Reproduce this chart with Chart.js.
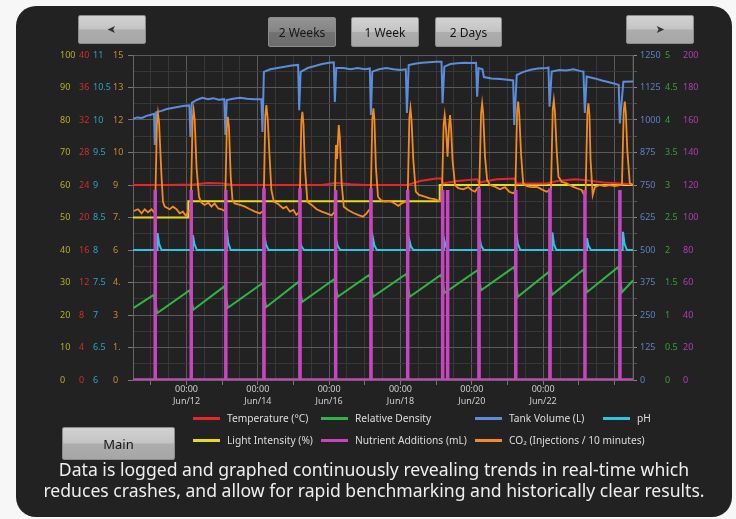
<!DOCTYPE html>
<html>
<head>
<meta charset="utf-8">
<script src="https://cdn.jsdelivr.net/npm/chart.js@4.4.1/dist/chart.umd.min.js"></script>
<style>
  html, body { margin: 0; padding: 0; background: #f7f7f7; }
  body { width: 736px; height: 519px; position: relative; overflow: hidden; font-family: 'Noto Sans', sans-serif; }
  #panel { position: absolute; left: 16px; top: 6px; width: 716px; height: 511px; background: #222; border-radius: 20px; }
  #chart { position: absolute; left: 0; top: 0; }
  .btn {
    position: absolute; box-sizing: border-box; height: 30px;
    background: linear-gradient(#d2d2d2 0%, #c4c4c4 48%, #adadad 52%, #a6a6a6 100%);
    border: 1px solid #8c8c8c; border-radius: 2px;
    display: flex; align-items: center; justify-content: center;
    font-size: 12px; color: #151515;
  }
  .btn.sel { background: linear-gradient(#939393 0%, #858585 48%, #727272 52%, #6c6c6c 100%); }
  .arrow { font-family: 'DejaVu Sans', sans-serif; font-size: 11px; color: #333; }
  #legend .item { position: absolute; display: flex; align-items: center; height: 12px; font-size: 10.2px; color: #ddd; white-space: nowrap; }
  #legend .swatch { display: inline-block; width: 27px; height: 3px; margin-right: 7px; }
  #caption { position: absolute; left: 16px; width: 716px; top: 459px; text-align: center; color: #eee; font-size: 17.6px; line-height: 21px; }
</style>
</head>
<body>
<div id="panel"></div>
<canvas id="chart" width="736" height="519"></canvas>
<div class="btn arrow" style="left:78px;top:15px;width:68px;height:29px"><span style="display:inline-block;transform:scaleX(-1)">&#10148;</span></div>
<div class="btn sel" style="left:268px;top:17px;width:68px">2 Weeks</div>
<div class="btn" style="left:351px;top:17px;width:68px">1 Week</div>
<div class="btn" style="left:435px;top:17px;width:67px">2 Days</div>
<div class="btn arrow" style="left:626px;top:15px;width:68px;height:29px">&#10148;</div>
<div class="btn" style="left:62px;top:427px;width:113px;height:33px;font-size:13px">Main</div>
<div id="legend"></div>
<div id="caption">Data is logged and graphed continuously revealing trends in real-time which<br>reduces crashes, and allow for rapid benchmarking and historically clear results.</div>
<script>
// x values are days counted from Jun/10 00:00
const xTickDays = [2, 4, 6, 8, 10, 12];
const xTickDates = ['Jun/12', 'Jun/14', 'Jun/16', 'Jun/18', 'Jun/20', 'Jun/22'];
const co2TickLabels = ['0', '1.', '3', '4.', '6', '7.', '9', '10', '12', '13', '15'];

const tempReadings = [
  [0.50, 24.0], [1.50, 24.0], [2.20, 24.05], [2.60, 24.25], [3.00, 24.2], [3.30, 24.0], [5.80, 24.0],
  [6.20, 24.25], [6.60, 24.1], [7.00, 24.0], [8.20, 24.0], [8.55, 24.5], [9.00, 24.8], [9.15, 24.8],
  [9.19, 24.2], [9.60, 24.5], [10.15, 24.7], [10.20, 24.3], [10.70, 24.7], [11.20, 24.8], [11.25, 24.2],
  [12.10, 24.2], [12.40, 24.5], [12.90, 24.7], [13.20, 24.6], [13.70, 24.3], [14.52, 24.1]
];

const densityReadings = [
  [0.52, 1.11], [1.08, 1.31], [1.18, 1.03], [2.09, 1.38], [2.19, 1.08], [3.06, 1.44], [3.16, 1.11],
  [4.13, 1.49], [4.23, 1.12], [5.14, 1.51], [5.24, 1.20], [6.14, 1.55], [6.24, 1.28], [7.13, 1.62],
  [7.23, 1.28], [8.16, 1.63], [8.26, 1.28], [9.14, 1.62], [9.24, 1.34], [10.16, 1.69], [10.26, 1.38],
  [11.19, 1.74], [11.29, 1.28], [12.15, 1.66], [12.25, 1.31], [13.13, 1.70], [13.23, 1.35],
  [14.11, 1.74], [14.21, 1.35], [14.52, 1.53]
];

const tankReadings = [
  [0.50, 1005], [0.62, 1010], [0.75, 1008], [0.88, 1016], [1.00, 1020], [1.09, 1024], [1.11, 904],
  [1.15, 1030], [1.30, 1035], [1.45, 1042], [1.60, 1046], [1.75, 1050], [1.90, 1054], [2.08, 1056],
  [2.11, 935], [2.15, 1066], [2.30, 1078], [2.45, 1085], [2.60, 1080], [2.75, 1084], [2.90, 1078],
  [3.06, 1080], [3.09, 942], [3.13, 1077], [3.30, 1082], [3.50, 1086], [3.70, 1082], [3.90, 1080],
  [4.10, 1080], [4.13, 954], [4.17, 1185], [4.35, 1195], [4.55, 1200], [4.75, 1205], [4.95, 1210],
  [5.13, 1212], [5.16, 1038], [5.20, 1185], [5.40, 1200], [5.60, 1208], [5.80, 1215], [6.00, 1220],
  [6.13, 1222], [6.16, 1069], [6.20, 1200], [6.40, 1200], [6.60, 1195], [6.80, 1200], [7.00, 1195],
  [7.14, 1198], [7.17, 1019], [7.21, 1186], [7.40, 1195], [7.60, 1200], [7.80, 1195], [8.00, 1192],
  [8.15, 1195], [8.18, 1027], [8.23, 1211], [8.40, 1216], [8.60, 1220], [8.80, 1222], [9.00, 1224],
  [9.15, 1224], [9.18, 1065], [9.23, 1205], [9.40, 1215], [9.60, 1218], [9.80, 1220], [10.00, 1219],
  [10.12, 1220], [10.15, 1090], [10.19, 1200], [10.30, 1195], [10.34, 1165], [10.55, 1160],
  [10.80, 1158], [11.00, 1155], [11.16, 1152], [11.19, 981], [11.26, 1173], [11.45, 1185],
  [11.65, 1193], [11.85, 1198], [12.10, 1200], [12.15, 1202], [12.18, 1051], [12.24, 1186],
  [12.45, 1192], [12.65, 1190], [12.85, 1195], [13.05, 1188], [13.13, 1186], [13.17, 1027],
  [13.22, 1167], [13.45, 1160], [13.65, 1152], [13.85, 1145], [14.05, 1138], [14.12, 1135],
  [14.15, 987], [14.25, 1147], [14.52, 1148]
];

const phReadings = [
  [0.50, 8.0],
  [1.18, 8.0], [1.19, 8.26], [1.23, 8.1], [1.30, 8.0],
  [2.17, 8.0], [2.18, 8.23], [2.22, 8.1], [2.29, 8.0],
  [3.12, 8.0], [3.13, 8.31], [3.17, 8.11], [3.24, 8.0],
  [4.18, 8.0], [4.19, 8.20], [4.23, 8.08], [4.30, 8.0],
  [5.18, 8.0], [5.19, 8.12], [5.23, 8.05], [5.30, 8.0],
  [6.19, 8.0], [6.20, 8.15], [6.24, 8.06], [6.31, 8.0],
  [7.22, 8.0], [7.23, 8.18], [7.27, 8.07], [7.34, 8.0],
  [8.24, 8.0], [8.25, 8.15], [8.29, 8.06], [8.36, 8.0],
  [9.22, 8.0], [9.23, 8.15], [9.27, 8.06], [9.34, 8.0],
  [10.21, 8.0], [10.22, 8.18], [10.26, 8.07], [10.33, 8.0],
  [11.24, 8.0], [11.25, 8.26], [11.29, 8.1], [11.36, 8.0],
  [12.25, 8.0], [12.26, 8.27], [12.30, 8.1], [12.37, 8.0],
  [13.22, 8.0], [13.23, 8.18], [13.27, 8.07], [13.34, 8.0],
  [14.23, 8.0], [14.24, 8.28], [14.28, 8.1], [14.35, 8.0],
  [14.52, 8.0]
];

const lightReadings = [[0.50, 50], [2.05, 50], [2.05, 55], [9.10, 55], [9.10, 60], [14.52, 60]];

const nutrientTimes = [1.12, 2.13, 3.10, 4.17, 5.18, 6.18, 7.17, 8.20, 9.18, 9.32, 10.20, 11.23, 12.19, 13.17, 14.15];
const nutrientAmounts = [117, 117, 117, 117, 117, 117, 117, 117, 117, 117, 117, 117, 117, 117, 117];

const co2Readings = [
  [0.52, 7.8], [0.64, 7.88], [0.74, 7.69], [0.83, 7.88], [0.92, 7.74], [1.02, 7.88], [1.08, 7.75],
  [1.12, 7.8], [1.17, 11.8], [1.20, 12.31], [1.23, 11.9], [1.30, 9.38], [1.34, 8.23],
  [1.39, 8.0], [1.53, 7.88], [1.62, 8.0], [1.72, 7.88], [1.81, 7.69], [1.90, 7.77], [1.98, 7.58], [2.05, 7.77],
  [2.12, 7.85], [2.17, 12.0], [2.20, 12.46], [2.23, 12.0], [2.28, 9.85], [2.35, 8.46], [2.42, 8.18],
  [2.51, 8.08], [2.61, 8.18], [2.70, 8.0], [2.79, 8.15], [2.89, 7.92], [2.98, 7.88], [3.05, 7.82],
  [3.08, 7.85], [3.13, 11.6], [3.16, 12.15], [3.19, 11.7], [3.24, 9.38], [3.29, 8.31], [3.35, 8.15],
  [3.50, 8.08], [3.64, 8.0], [3.78, 7.88], [3.92, 7.77], [4.06, 7.69], [4.12, 7.77],
  [4.16, 7.8], [4.21, 12.2], [4.24, 12.69], [4.28, 12.0], [4.32, 10.6], [4.38, 8.77], [4.45, 8.23],
  [4.57, 8.12], [4.71, 7.92], [4.80, 8.0], [4.90, 7.77], [5.00, 7.85], [5.08, 7.62], [5.13, 7.7],
  [5.17, 7.75], [5.22, 11.9], [5.25, 12.38], [5.28, 11.8], [5.32, 9.85], [5.39, 8.23],
  [5.51, 8.08], [5.65, 7.88], [5.79, 7.77], [5.93, 7.69], [6.07, 7.6], [6.12, 7.7],
  [6.15, 7.75], [6.19, 10.85], [6.22, 10.2], [6.27, 11.77], [6.30, 11.2], [6.35, 9.08], [6.41, 8.0],
  [6.53, 7.85], [6.67, 7.72], [6.81, 7.62], [6.95, 7.54], [7.05, 7.69], [7.12, 7.85],
  [7.16, 7.9], [7.21, 12.0], [7.24, 12.54], [7.27, 12.0], [7.31, 9.85], [7.37, 8.46], [7.45, 8.3],
  [7.56, 8.23], [7.70, 8.26], [7.84, 8.15], [7.94, 8.04], [8.03, 8.15], [8.14, 8.23],
  [8.20, 8.3], [8.25, 12.1], [8.28, 12.54], [8.31, 12.0], [8.36, 10.15], [8.43, 8.69], [8.52, 8.54],
  [8.68, 8.46], [8.82, 8.38], [8.96, 8.35], [9.10, 8.26],
  [9.16, 8.3], [9.21, 11.8], [9.24, 12.23], [9.28, 11.5], [9.32, 10.31], [9.36, 11.7], [9.39, 12.23],
  [9.42, 11.6], [9.46, 10.15], [9.53, 9.0], [9.62, 8.85],
  [9.76, 8.8], [9.90, 8.9], [9.99, 8.77], [10.09, 8.69], [10.16, 8.85],
  [10.21, 8.9], [10.26, 12.3], [10.29, 12.77], [10.32, 12.3], [10.37, 10.31], [10.43, 9.23], [10.51, 9.0],
  [10.65, 8.92], [10.79, 8.8], [10.93, 8.9], [11.05, 8.69], [11.16, 8.62],
  [11.22, 8.7], [11.27, 12.4], [11.30, 12.85], [11.33, 12.3], [11.38, 10.46], [11.44, 9.08], [11.54, 8.95],
  [11.68, 8.9], [11.82, 8.92], [11.96, 8.8], [12.10, 8.69], [12.17, 8.75],
  [12.22, 8.8], [12.27, 12.5], [12.30, 12.92], [12.33, 12.4], [12.38, 10.6], [12.43, 9.38], [12.52, 9.15],
  [12.66, 9.08], [12.80, 8.95], [12.94, 8.85], [13.08, 8.77], [13.14, 8.58],
  [13.19, 8.6], [13.24, 12.3], [13.27, 12.77], [13.30, 12.2], [13.33, 10.15], [13.39, 8.54], [13.45, 8.9],
  [13.59, 9.0], [13.73, 8.95], [13.87, 9.0], [14.01, 8.95], [14.15, 9.0],
  [14.21, 9.0], [14.26, 12.4], [14.29, 12.85], [14.32, 12.3], [14.36, 10.6], [14.43, 9.08], [14.52, 9.0]
];

const pts = arr => arr.map(([x, y]) => ({ x, y }));

// nutrient additions are drawn as narrow pulses from zero
const nutrientPoints = [{ x: 0.5, y: 0 }];
nutrientTimes.forEach((t, i) => {
  nutrientPoints.push({ x: t, y: 0 }, { x: t, y: nutrientAmounts[i] },
    { x: t + 0.004, y: nutrientAmounts[i] }, { x: t + 0.004, y: 0 });
});
nutrientPoints.push({ x: 14.52, y: 0 });

const fontFamily = "'Noto Sans', sans-serif";
const tickFont = { family: fontFamily, size: 9 };

function sideAxis(position, min, max, step, color, width, weight) {
    return {
        type: 'linear', position, min, max, weight,
        grid: { display: false, drawTicks: false },
        border: { display: false },
        ticks: { stepSize: step, color, font: tickFont, padding: 0, autoSkip: false,
                 crossAlign: position === 'left' ? 'far' : 'near',
                 callback: v => String(v) },
        afterFit: s => { s.width = width; }
    };
}

const ctx = document.getElementById('chart').getContext('2d');
const chart = new Chart(ctx, {
    type: 'line',
    data: {
        datasets: [
            { label: 'Temperature (°C)', data: pts(tempReadings), borderColor: '#e8262a', yAxisID: 'yTemp', order: 4 },
            { label: 'Relative Density', data: pts(densityReadings), borderColor: '#2fb545', yAxisID: 'yDensity', order: 5 },
            { label: 'Tank Volume (L)', data: pts(tankReadings), borderColor: '#5b8ddb', yAxisID: 'yTank', order: 3 },
            { label: 'pH', data: pts(phReadings), borderColor: '#2bc6e2', yAxisID: 'yPH', order: 2 },
            { label: 'Light Intensity (%)', data: pts(lightReadings), borderColor: '#e8da1e', yAxisID: 'yLight', order: 6 },
            { label: 'Nutrient Additions (mL)', data: nutrientPoints, borderColor: '#c845c0', yAxisID: 'yNutrient',
              order: 0, borderWidth: 3.5, borderJoinStyle: 'miter', borderCapStyle: 'butt' },
            { label: 'CO₂ (Injections / 10 minutes)', data: pts(co2Readings), borderColor: '#f28c1e', yAxisID: 'yCO2',
              order: 1, borderWidth: 1.8 }
        ]
    },
    options: {
        responsive: false,
        animation: false,
        layout: { padding: { left: 60, right: 23, top: 55, bottom: 104 } },
        elements: { point: { radius: 0 }, line: { borderWidth: 2, tension: 0 } },
        plugins: { legend: { display: false }, tooltip: { enabled: false } },
        scales: {
            x: {
                type: 'linear', min: 0.5, max: 14.52,
                grid: {
                    color: c => (c.tick && c.tick.value % 2 === 0) ? '#5a5a5a' : '#383838',
                    tickColor: c => (c.tick && Number.isInteger(c.tick.value)) ? '#777' : 'transparent',
                    tickLength: 5
                },
                border: { color: '#666' },
                ticks: {
                    stepSize: 0.5, includeBounds: false, autoSkip: false, maxRotation: 0, padding: -2,
                    color: '#ccc', font: { family: fontFamily, size: 9, lineHeight: 1.35 },
                    callback: v => {
                        const i = xTickDays.indexOf(v);
                        return i >= 0 ? ['00:00', xTickDates[i]] : '';
                    }
                },
                afterFit: s => { s.height = 35; }
            },
            yLight: sideAxis('left', 0, 100, 10, '#b5ad2a', 19, 4),
            yTemp: sideAxis('left', 0, 40, 4, '#d42c2c', 14, 3),
            yPH: sideAxis('left', 6, 11, 0.5, '#2ba3c4', 20, 2),
            yCO2: {
                type: 'linear', position: 'left', min: 0, max: 15, weight: 1,
                grid: {
                    color: c => c.index % 2 === 0 ? '#5a5a5a' : '#383838',
                    tickColor: c => c.index % 2 === 0 ? '#777' : 'transparent',
                    tickLength: 5
                },
                border: { color: '#666' },
                ticks: {
                    stepSize: 0.75, autoSkip: false, padding: 0, crossAlign: 'far',
                    color: '#c98a35', font: tickFont,
                    callback: (v, i) => i % 2 === 0 ? co2TickLabels[i / 2] : ''
                },
                afterFit: s => { s.width = 20; }
            },
            yTank: {
                type: 'linear', position: 'right', min: 0, max: 1250, weight: 1,
                grid: {
                    drawOnChartArea: false, tickLength: 4,
                    tickColor: c => c.index % 2 === 0 ? '#888' : '#555'
                },
                border: { color: '#666' },
                ticks: {
                    stepSize: 62.5, autoSkip: false, padding: 3, color: '#5c80c4', font: tickFont,
                    callback: (v, i) => i % 2 === 0 ? v : ''
                },
                afterFit: s => { s.width = 32; }
            },
            yDensity: sideAxis('right', 0, 5, 0.5, '#35a035', 18, 2),
            yNutrient: sideAxis('right', 0, 200, 20, '#b43cb4', 30, 3)
        }
    }
});

// legend laid out in four aligned columns like the original panel
const legendLefts = [193, 321, 475, 603];
const legendEl = document.getElementById('legend');
chart.data.datasets.forEach((ds, i) => {
    const item = document.createElement('div');
    item.className = 'item';
    item.style.left = legendLefts[i % 4] + 'px';
    item.style.top = (i < 4 ? 412 : 434) + 'px';
    item.innerHTML = '<span class="swatch" style="background:' + ds.borderColor + '"></span>' + ds.label;
    legendEl.appendChild(item);
});
</script>
</body>
</html>
